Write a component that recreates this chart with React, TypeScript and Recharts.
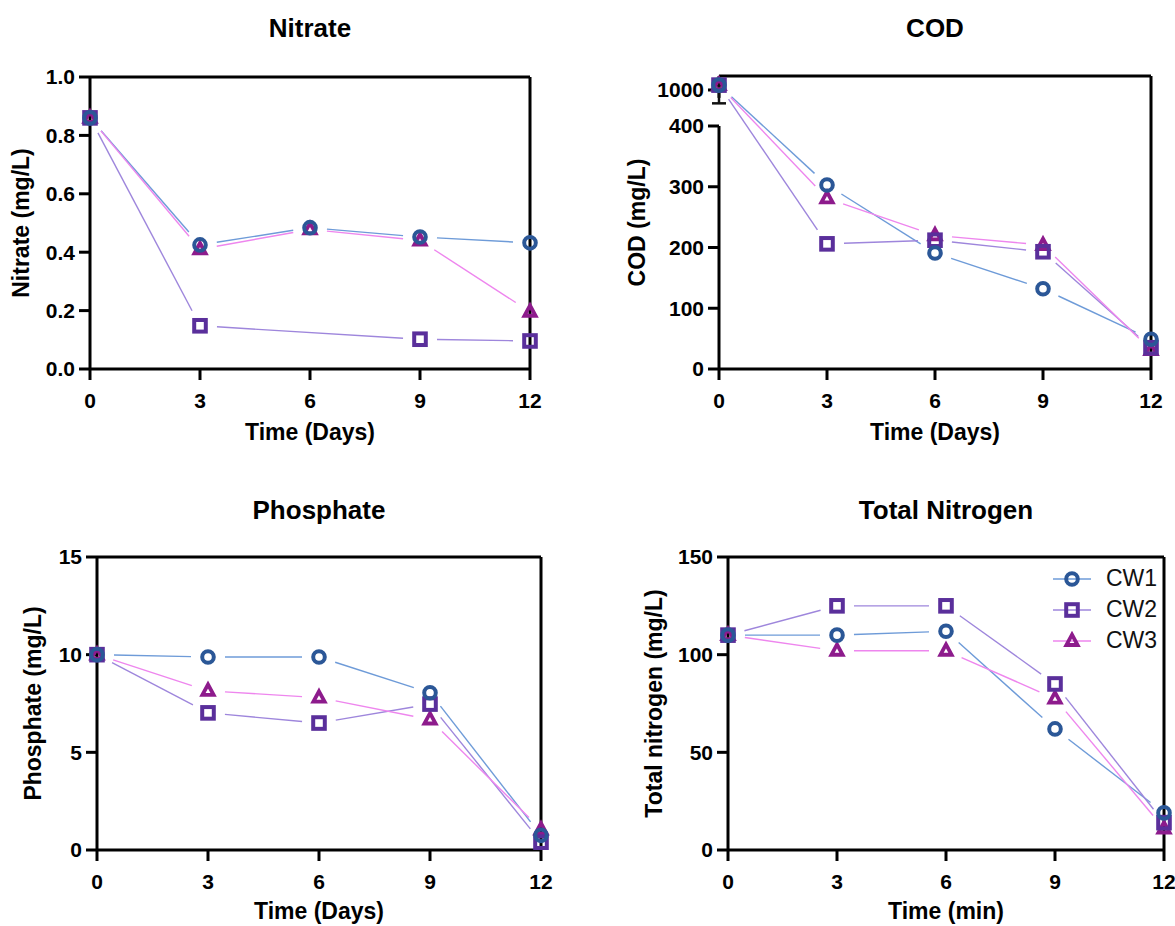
import React from 'react';
import { LineChart, Line, XAxis, YAxis, ReferenceLine, Legend, ErrorBar } from 'recharts';

const FONT = '"Liberation Sans", Arial, Helvetica, sans-serif';

// sampling days
const DAYS = [0, 3, 6, 9, 12];

// Nitrate (mg/L)
const NITRATE_CW1 = [0.86, 0.425, 0.484, 0.452, 0.432];
const NITRATE_CW2 = [0.86, 0.148, null, 0.102, 0.096];
const NITRATE_CW3 = [0.86, 0.41, 0.478, 0.44, 0.196];
const NITRATE_TICKS = [0, 0.2, 0.4, 0.6, 0.8, 1.0];

// COD (mg/L) – first day sits above the axis break
const COD_CW1 = [1040, 303, 191, 132, 49];
const COD_CW2 = [1040, 206, 212, 193, 35];
const COD_CW3 = [1040, 281, 220, 204, 31];
const COD_SD = [150, null, null, null, null];
const COD_TICKS = [0, 100, 200, 300, 400, 1000];

// Phosphate (mg/L)
const PHOSPHATE_CW1 = [10, 9.88, 9.88, 8.05, 0.75];
const PHOSPHATE_CW2 = [10, 7.02, 6.5, 7.47, 0.4];
const PHOSPHATE_CW3 = [10, 8.15, 7.8, 6.68, 1.05];
const PHOSPHATE_TICKS = [0, 5, 10, 15];

// Total nitrogen (mg/L)
const TN_CW1 = [110, 110, 112, 62, 19];
const TN_CW2 = [110, 125, 125, 85, 14];
const TN_CW3 = [110, 102, 102, 77.5, 11];
const TN_TICKS = [0, 50, 100, 150];

const SERIES = [
  { key: 'cw1', name: 'CW1', marker: '#2B5797', line: '#6E9BD8', shape: 'circle' },
  { key: 'cw2', name: 'CW2', marker: '#5A2F9B', line: '#9E86DC', shape: 'square' },
  { key: 'cw3', name: 'CW3', marker: '#8D1B8C', line: '#EE86EE', shape: 'triangle' },
];

// broken COD axis: 0-400 linear, then a short stretch around 1000
const COD_UPPER_AT = 459.3;
const COD_UPPER_SLOPE = 0.2;
const codT = (v: number | null) =>
  v == null ? null : v <= 400 ? v : COD_UPPER_AT + (v - 1000) * COD_UPPER_SLOPE;

const rowsOf = (a: any[], b: any[], c: any[], sd?: any[]) =>
  DAYS.map((day, i) => ({ day, cw1: a[i], cw2: b[i], cw3: c[i], sd: sd ? sd[i] : null }));

const GAP = 17;

// each point draws the piece of line towards the next point, leaving a gap round both markers
const segmentDot = (color: string) => (p: any) => {
  const pts = p.points || [];
  const i = p.index;
  if (!Number.isFinite(p.cx) || !Number.isFinite(p.cy)) return <g key={`s${i}`} />;
  let j = i + 1;
  while (j < pts.length && !Number.isFinite(pts[j].y)) j++;
  if (j >= pts.length) return <g key={`s${i}`} />;
  const q = pts[j];
  const dx = q.x - p.cx;
  const dy = q.y - p.cy;
  const d = Math.hypot(dx, dy);
  if (d <= GAP * 2) return <g key={`s${i}`} />;
  const ux = dx / d;
  const uy = dy / d;
  return (
    <line
      key={`s${i}`}
      x1={p.cx + ux * GAP}
      y1={p.cy + uy * GAP}
      x2={q.x - ux * GAP}
      y2={q.y - uy * GAP}
      stroke={color}
      strokeWidth={1.4}
    />
  );
};

function Marker({ shape, color, cx, cy }: any) {
  if (shape === 'circle') {
    return <circle cx={cx} cy={cy} r={5.8} fill="none" stroke={color} strokeWidth={4} />;
  }
  if (shape === 'square') {
    return <rect x={cx - 5.8} y={cy - 5.8} width={11.6} height={11.6} fill="none" stroke={color} strokeWidth={4} />;
  }
  return (
    <polygon
      points={`${cx},${cy - 6.3} ${cx + 5.6},${cy + 4} ${cx - 5.6},${cy + 4}`}
      fill="none"
      stroke={color}
      strokeWidth={3.8}
      strokeLinejoin="miter"
    />
  );
}

const markerDot = (s: any) => (p: any) => {
  if (!Number.isFinite(p.cx) || !Number.isFinite(p.cy)) return <g key={`m${p.index}`} />;
  return <Marker key={`m${p.index}`} shape={s.shape} color={s.marker} cx={p.cx} cy={p.cy} />;
};

function LegendBox() {
  return (
    <div style={{ fontFamily: FONT }}>
      {SERIES.map((s) => (
        <div key={s.key} style={{ display: 'flex', alignItems: 'center', height: 31 }}>
          <svg width={38} height={20}>
            <line x1={0} y1={10} x2={38} y2={10} stroke={s.line} strokeWidth={1.5} />
            <Marker shape={s.shape} color={s.marker} cx={19} cy={10} />
          </svg>
          <span style={{ marginLeft: 15, fontSize: 23, color: '#111' }}>{s.name}</span>
        </div>
      ))}
    </div>
  );
}

const TICK_FONT = 21;
const tickStyle = { fill: '#000', fontSize: TICK_FONT, fontWeight: 700, fontFamily: FONT, style: { fontSize: TICK_FONT } };
const axisStroke = { stroke: '#000', strokeWidth: 3 };

function Panel({ cfg, rows, yDomain, yTicks, yFmt, transform, title, xLabel, yLabel, broken, legend }: any) {
  const { left, top, width, height, plot } = cfg;
  const cx = (plot.l + plot.r) / 2;
  const cy = (plot.t + plot.b) / 2;
  const margin = { top: plot.t, left: plot.l - 80, right: width - plot.r, bottom: height - plot.b - 60 };
  const val = transform || ((v: any) => v);
  return (
    <div style={{ position: 'absolute', left, top, width, height }}>
      <div
        style={{
          position: 'absolute', left: cx - 250, width: 500, top: cfg.titleY - 16, height: 32,
          lineHeight: '32px', textAlign: 'center', fontFamily: FONT, fontWeight: 700, fontSize: 26, color: '#000',
        }}
      >
        {title}
      </div>
      <LineChart width={width} height={height} data={rows} margin={margin}>
        <XAxis
          type="number"
          dataKey="day"
          domain={[0, 12]}
          ticks={DAYS}
          interval={0}
          height={60}
          fontSize={TICK_FONT}
          tick={tickStyle}
          tickSize={11}
          tickMargin={13}
          axisLine={axisStroke}
          tickLine={axisStroke}
        />
        <YAxis
          type="number"
          domain={yDomain}
          ticks={yTicks}
          interval={0}
          width={80}
          fontSize={TICK_FONT}
          tick={tickStyle}
          tickSize={11}
          tickMargin={4}
          tickFormatter={yFmt}
          axisLine={broken ? false : axisStroke}
          tickLine={axisStroke}
        />
        <ReferenceLine y={yDomain[1]} stroke="#000" strokeWidth={3} />
        <ReferenceLine x={12} stroke="#000" strokeWidth={3} />
        {broken &&
          broken.map((seg: number[], i: number) => (
            <ReferenceLine
              key={`ax${i}`}
              segment={[{ x: 0, y: seg[0] }, { x: 0, y: seg[1] }]}
              stroke="#000"
              strokeWidth={3}
            />
          ))}
        {SERIES.map((s) => (
          <Line
            key={`seg-${s.key}`}
            dataKey={(r: any) => val(r[s.key])}
            stroke="none"
            dot={segmentDot(s.line)}
            activeDot={false}
            legendType="none"
            isAnimationActive={false}
          >
            {broken && s.key === 'cw1' && (
              <ErrorBar
                dataKey={(r: any) => (r.sd == null ? undefined : [val(r.cw1) - val(r.cw1 - r.sd), 0])}
                width={7}
                stroke="#111"
                strokeWidth={2.5}
                direction="y"
                isAnimationActive={false}
              />
            )}
          </Line>
        ))}
        {[...SERIES].reverse().map((s) => (
          <Line
            key={`mk-${s.key}`}
            dataKey={(r: any) => val(r[s.key])}
            stroke="none"
            dot={markerDot(s)}
            activeDot={false}
            legendType="none"
            isAnimationActive={false}
          />
        ))}
        {legend && (
          <Legend
            layout="vertical"
            align="center"
            verticalAlign="middle"
            content={() => <LegendBox />}
            wrapperStyle={{ left: legend.left, top: legend.top, width: 120, height: 95 }}
          />
        )}
      </LineChart>
      <svg width={width} height={height} style={{ position: 'absolute', left: 0, top: 0, pointerEvents: 'none' }}>
        <text x={cx} y={cfg.xLabelY} textAnchor="middle" fontFamily={FONT} fontWeight={700} fontSize={23} fill="#000">
          {xLabel}
        </text>
        <text
          x={cfg.yLabelX}
          y={cy}
          transform={`rotate(-90 ${cfg.yLabelX} ${cy})`}
          textAnchor="middle"
          dominantBaseline="central"
          fontFamily={FONT}
          fontWeight={700}
          fontSize={23}
          fill="#000"
        >
          {yLabel}
        </text>
      </svg>
    </div>
  );
}

export default function App() {
  const codTop = codT(1115) as number;
  return (
    <div style={{ position: 'absolute', left: 0, top: 0, width: 1175, height: 926, background: '#fff', overflow: 'hidden' }}>
      <Panel
        cfg={{ left: 0, top: 0, width: 587, height: 463, plot: { l: 90, t: 77, r: 530, b: 369 }, titleY: 28, xLabelY: 440, yLabelX: 21 }}
        rows={rowsOf(NITRATE_CW1, NITRATE_CW2, NITRATE_CW3)}
        yDomain={[0, 1]}
        yTicks={NITRATE_TICKS}
        yFmt={(v: number) => v.toFixed(1)}
        title="Nitrate"
        xLabel="Time (Days)"
        yLabel="Nitrate (mg/L)"
      />
      <Panel
        cfg={{ left: 587, top: 0, width: 588, height: 463, plot: { l: 132, t: 76, r: 564, b: 369 }, titleY: 28, xLabelY: 440, yLabelX: 50 }}
        rows={rowsOf(COD_CW1, COD_CW2, COD_CW3, COD_SD)}
        transform={codT}
        yDomain={[0, codTop]}
        yTicks={COD_TICKS.map((t) => codT(t))}
        yFmt={(v: number) => (v > 400 ? '1000' : String(v))}
        broken={[[0, 400], [codT(935), codTop]]}
        title="COD"
        xLabel="Time (Days)"
        yLabel="COD (mg/L)"
      />
      <Panel
        cfg={{ left: 0, top: 463, width: 587, height: 463, plot: { l: 97, t: 94, r: 541, b: 387 }, titleY: 47, xLabelY: 456, yLabelX: 33 }}
        rows={rowsOf(PHOSPHATE_CW1, PHOSPHATE_CW2, PHOSPHATE_CW3)}
        yDomain={[0, 15]}
        yTicks={PHOSPHATE_TICKS}
        title="Phosphate"
        xLabel="Time (Days)"
        yLabel="Phosphate (mg/L)"
      />
      <Panel
        cfg={{ left: 587, top: 463, width: 588, height: 463, plot: { l: 141, t: 94, r: 577, b: 387 }, titleY: 47, xLabelY: 456, yLabelX: 67 }}
        rows={rowsOf(TN_CW1, TN_CW2, TN_CW3)}
        yDomain={[0, 150]}
        yTicks={TN_TICKS}
        title="Total Nitrogen"
        xLabel="Time (min)"
        yLabel="Total nitrogen (mg/L)"
        legend={{ left: 466, top: 100 }}
      />
    </div>
  );
}
